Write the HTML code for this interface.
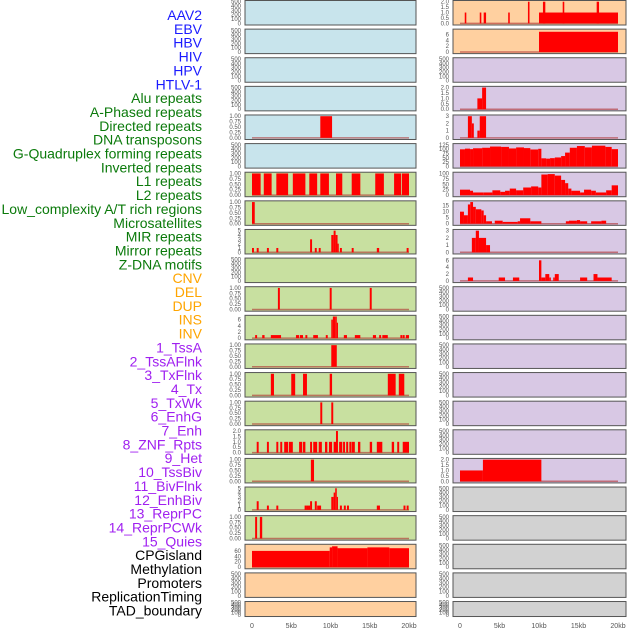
<!DOCTYPE html>
<html><head><meta charset="utf-8"><style>
body{margin:0;background:#fff;}
svg{display:block;font-family:"Liberation Sans",sans-serif;}
</style></head><body>
<svg id="chart" width="630" height="630" viewBox="0 0 630 630"></svg>
<script>
// ---------- data ----------
const labels = ["AAV2","EBV","HBV","HIV","HPV","HTLV-1","Alu repeats","A-Phased repeats","Directed repeats","DNA transposons","G-Quadruplex forming repeats","Inverted repeats","L1 repeats","L2 repeats","Low_complexity A/T rich regions","Microsatellites","MIR repeats","Mirror repeats","Z-DNA motifs","CNV","DEL","DUP","INS","INV","1_TssA","2_TssAFlnk","3_TxFlnk","4_Tx","5_TxWk","6_EnhG","7_Enh","8_ZNF_Rpts","9_Het","10_TssBiv","11_BivFlnk","12_EnhBiv","13_ReprPC","14_ReprPCWk","15_Quies","CPGisland","Methylation","Promoters","ReplicationTiming","TAD_boundary"];
const labelGroups = [6,13,5,15,5];
const groupColors = ["#1a1aff","#0b7a0b","#ffa500","#a020f0","#000000"];
const xTicks = [0,5,10,15,20];
const xTickLabels = ["0","5kb","10kb","15kb","20kb"];

const T1 = [0,0.25,0.5,0.75,1], T1L = ["0.00","0.25","0.50","0.75","1.00"];
const T500 = [0,100,200,300,400,500], T500L = ["0","100","200","300","400","500"];
const T2 = [0,0.5,1,1.5,2], T2L = ["0.0","0.5","1.0","1.5","2.0"];

// left column bars [startKb, endKb, value]
const L4 = [[8.7,10.2,1]];
const L6 = [[0,1.1,1],[1.5,2.5,1],[3.1,4.6,1],[5.2,6.8,1],[7.3,8.3,1],[8.7,9.8,1],[10.7,11.5,1],[12.7,13.8,1],[15.7,16.8,1],[18.1,19.0,1],[19.1,20,1]];
const L7 = [[0,0.35,1]];
const L8 = [[0,0.25,1],[0.6,0.85,1],[1.9,2.15,1],[3.1,3.35,1],[7.4,7.65,3],[8.0,8.25,1],[8.5,8.75,1],[10.1,10.4,4],[10.4,10.65,5],[10.65,10.9,4],[10.9,11.0,2],[11.2,11.45,1],[12.7,12.95,1],[15.9,16.2,1],[19.7,19.95,1]];
const L10 = [[3.3,3.55,1],[9.9,10.15,1],[15.0,15.25,1]];
const L11 = [[0.4,0.65,1],[1.3,1.6,1],[2.4,3.7,1],[5.6,6.0,1],[6.1,6.5,1],[6.8,7.05,1],[7.8,8.4,1],[9.4,9.65,1],[10.1,10.3,6],[10.3,10.6,7],[10.6,10.8,7],[10.8,10.95,5],[11.7,12.1,1],[13.1,13.8,1],[15.4,15.8,1],[16.2,16.45,1],[16.6,17.3,1],[18.9,19.15,1],[19.2,19.45,1],[19.6,20,1]];
const L12 = [[10.1,10.8,1]];
const L13 = [[2.4,2.8,1],[5.0,5.5,1],[6.5,7.0,1],[9.9,10.2,1],[17.3,18.3,1],[18.7,19.4,1]];
const L14 = [[8.7,8.95,1],[10.1,10.35,1]];
const L15 = [[0.6,0.85,1],[1.9,2.15,1],[3.1,3.35,1],[3.6,3.85,1],[4.1,4.6,1],[4.7,5.2,1],[6.0,6.4,1],[6.5,6.8,1],[7.4,7.65,1],[7.8,8.3,1],[8.5,8.9,1],[9.3,9.6,1],[9.8,10.2,1],[10.4,10.7,1],[10.7,10.95,2],[11.1,11.5,1],[11.6,11.85,1],[12.0,12.25,1],[12.4,12.65,1],[12.7,13.1,1],[13.5,13.8,1],[15.0,15.3,1],[15.9,16.6,1],[17.8,18.1,1],[18.5,18.75,1],[19.2,20,1]];
const L16 = [[7.5,7.9,1]];
const L17 = [[0.6,0.85,2],[1.9,2.15,1],[3.1,3.35,1],[6.7,6.95,1],[6.95,7.2,1],[7.2,7.4,1],[7.4,7.65,2],[8.0,8.25,2],[8.3,8.8,1],[10.1,10.4,3],[10.4,10.6,4],[10.6,10.8,5],[10.8,10.95,3],[11.2,11.45,1],[11.7,11.95,1],[12.1,12.35,1],[15.9,16.3,1],[19.3,19.55,1],[19.7,19.95,1]];
const L18 = [[0.4,0.65,1],[1.0,1.3,1]];
const L19 = [[0,9.9,60],[9.9,10.2,73],[10.2,10.9,77],[10.9,14.7,70],[14.7,17.5,73],[17.5,20,70]];

// right column bars
const R0 = [[0.6,0.8,1],[2.5,2.7,1],[3.0,3.3,1],[6.1,6.3,1],[8.6,8.8,2],[10.0,20,1],[10.5,10.8,2],[13.0,13.2,2],[17.3,17.6,2]];
const R1 = [[10.0,20,7]];
const R3 = [[2.2,2.8,1],[2.8,3.3,2]];
const R4 = [[1.0,1.5,3],[1.5,1.75,2],[2.2,2.5,1],[2.5,3.3,3]];
const R5 = [[0,0.63,99],[0.63,1.27,103],[1.27,1.65,100],[1.65,2.8,105],[2.8,3.8,108],[3.8,5.2,115],[5.2,6.2,113],[6.2,7.1,104],[7.1,8.1,110],[8.1,8.9,106],[8.9,9.9,98],[9.9,10.3,102],[10.3,10.9,47],[10.9,11.4,45],[11.4,12.0,48],[12.0,12.8,52],[12.8,13.3,60],[13.3,13.9,80],[13.9,14.8,108],[14.8,15.8,118],[15.8,16.7,110],[16.7,18.4,120],[18.4,19.2,113],[19.2,20,100]];
const R6 = [[0,1.27,25],[1.27,1.65,20],[1.65,3.0,12],[3.0,4.1,12],[4.1,5.1,22],[5.1,5.7,15],[5.7,6.3,20],[6.3,7.1,30],[7.1,8.0,22],[8.0,9.0,35],[9.0,9.9,40],[9.9,10.3,35],[10.3,11.1,95],[11.1,12.0,97],[12.0,12.8,90],[12.8,13.3,70],[13.3,13.7,55],[13.7,14.1,30],[14.1,15.2,20],[15.2,15.7,12],[15.7,16.6,25],[16.6,17.2,20],[17.2,18.5,12],[18.5,19.2,22],[19.2,20,45]];
const R7 = [[0,0.5,10],[0.5,1.0,7],[1.0,1.3,16],[1.3,1.65,18],[1.65,2.0,14],[2.0,2.7,12],[2.7,3.0,11],[3.0,3.3,7],[3.3,4.05,2],[4.4,5.4,2.5],[5.4,7.3,1.5],[7.3,7.6,2],[7.6,8.9,4.5],[8.9,10.3,2],[13.4,13.8,2],[13.8,14.8,2.5],[14.8,15.2,3],[15.2,16.1,2],[16.6,17.9,2],[17.9,18.5,2.5]];
const R8 = [[1.5,2.0,2],[2.0,2.4,3],[2.4,3.3,2],[3.3,3.8,1]];
const R9 = [[1.0,1.65,1],[4.9,5.7,1],[6.7,7.5,1],[10.0,10.3,6],[10.3,10.8,1],[10.8,11.3,2],[11.3,11.5,1],[11.8,12.0,1],[12.0,12.5,2],[15.2,16.1,1],[16.9,17.4,2],[17.4,19.2,1]];
const R16 = [[0,2.9,1],[2.9,10.3,2]];

const BLUE="#c8e4ec", PEACH="#ffd0a0", PURP="#d8c8e4", GREEN="#c8e0a0", GRAY="#d2d2d2";
// per row: [bg, bars, ymax, ticks, tickLabels]
const leftRows = [
 [BLUE,null,500,T500,T500L],[BLUE,null,500,T500,T500L],[BLUE,null,500,T500,T500L],[BLUE,null,500,T500,T500L],
 [BLUE,L4,1,T1,T1L],[BLUE,null,500,T500,T500L],
 [GREEN,L6,1,T1,T1L],[GREEN,L7,1,T1,T1L],[GREEN,L8,5,[0,1,2,3,4,5],["0","1","2","3","4","5"]],[GREEN,null,500,T500,T500L],
 [GREEN,L10,1,T1,T1L],[GREEN,L11,7,[0,2,4,6],["0","2","4","6"]],[GREEN,L12,1,T1,T1L],[GREEN,L13,1,T1,T1L],[GREEN,L14,1,T1,T1L],
 [GREEN,L15,2,T2,T2L],[GREEN,L16,1,T1,T1L],[GREEN,L17,5,[0,1,2,3,4,5],["0","1","2","3","4","5"]],[GREEN,L18,1,T1,T1L],
 [PEACH,L19,80,[0,20,40,60],["0","20","40","60"]],[PEACH,null,500,T500,T500L],[PEACH,null,500,T500,T500L]
];
const rightRows = [
 [PEACH,R0,2,T2,T2L],[PEACH,R1,7.5,[0,2,4,6],["0","2","4","6"]],
 [PURP,null,500,T500,T500L],[PURP,R3,2,T2,T2L],[PURP,R4,3,[0,1,2,3],["0","1","2","3"]],
 [PURP,R5,125,[0,25,50,75,100,125],["0","25","50","75","100","125"]],[PURP,R6,100,[0,25,50,75,100],["0","25","50","75","100"]],
 [PURP,R7,18,[0,5,10,15],["0","5","10","15"]],[PURP,R8,3,[0,1,2,3],["0","1","2","3"]],[PURP,R9,6.3,[0,2,4,6],["0","2","4","6"]],
 [PURP,null,500,T500,T500L],[PURP,null,500,T500,T500L],[PURP,null,500,T500,T500L],[PURP,null,500,T500,T500L],[PURP,null,500,T500,T500L],[PURP,null,500,T500,T500L],
 [PURP,R16,2,T2,T2L],
 [GRAY,null,500,T500,T500L],[GRAY,null,500,T500,T500L],[GRAY,null,500,T500,T500L],[GRAY,null,500,T500,T500L],[GRAY,null,500,T500,T500L]
];

// ---------- drawing ----------
const NS="http://www.w3.org/2000/svg";
const svg=document.getElementById('chart');
function mk(tag,attrs,parent){const e=document.createElementNS(NS,tag);for(const k in attrs)e.setAttribute(k,attrs[k]);(parent||svg).appendChild(e);return e;}

// labels
let li=0;
labelGroups.forEach((n,g)=>{for(let j=0;j<n;j++){
  const t=mk('text',{x:202,y:20+li*13.85,'text-anchor':'end','font-size':14,fill:groupColors[g]});
  t.textContent=labels[li];
  
  
  li++;}});

const cols=[{x0:245,x1:416,d0:252,d1:409,rows:leftRows,name:'left'},{x0:453,x1:626,d0:460,d1:618,rows:rightRows,name:'right'}];
const PITCH=28.62;
cols.forEach(c=>{
  const xs=kb=>c.d0+(kb/20)*(c.d1-c.d0);
  c.rows.forEach((r,i)=>{
    const top=i*PITCH+0.5, h=(i===21)?15:24.5;
    const [bg,bars,ymax,ticks,tl]=r;
    const g=mk('g',{});
    
    
    mk('rect',{x:c.x0,y:top,width:c.x1-c.x0,height:h,fill:bg},g);
    const ymin=-ymax*0.03, ymx=ymax*1.01;
    const ys=v=>top+h-1-((v-ymin)/(ymx-ymin))*(h-2);
    if(bars){
      mk('line',{x1:xs(0),x2:xs(20),y1:ys(0),y2:ys(0),stroke:'#b03030','stroke-width':1.5,opacity:0.6},g);
      bars.forEach(b=>{
        const y0=ys(0), y1=ys(b[2]);
        const rct=mk('rect',{x:xs(b[0]),y:y1,width:Math.max(1.2,xs(b[1])-xs(b[0])),height:y0-y1,fill:'#ff0000'},g);
        
        
      });
    }
    ticks.forEach((tv,k)=>{
      const t=mk('text',{x:c.x0-4,y:ys(tv)+2,'text-anchor':'end','font-size':6,fill:'#555'},g);
      t.textContent=tl[k];
    });
    mk('rect',{x:c.x0,y:top,width:c.x1-c.x0,height:h,fill:'none',stroke:'#555','stroke-width':1},g);
  });
  xTicks.forEach((v,k)=>{
    const t=mk('text',{x:xs(v),y:628,'text-anchor':'middle','font-size':7,fill:'#555'});
    t.textContent=xTickLabels[k];
    
    
  });
});
</script>
</body></html>
